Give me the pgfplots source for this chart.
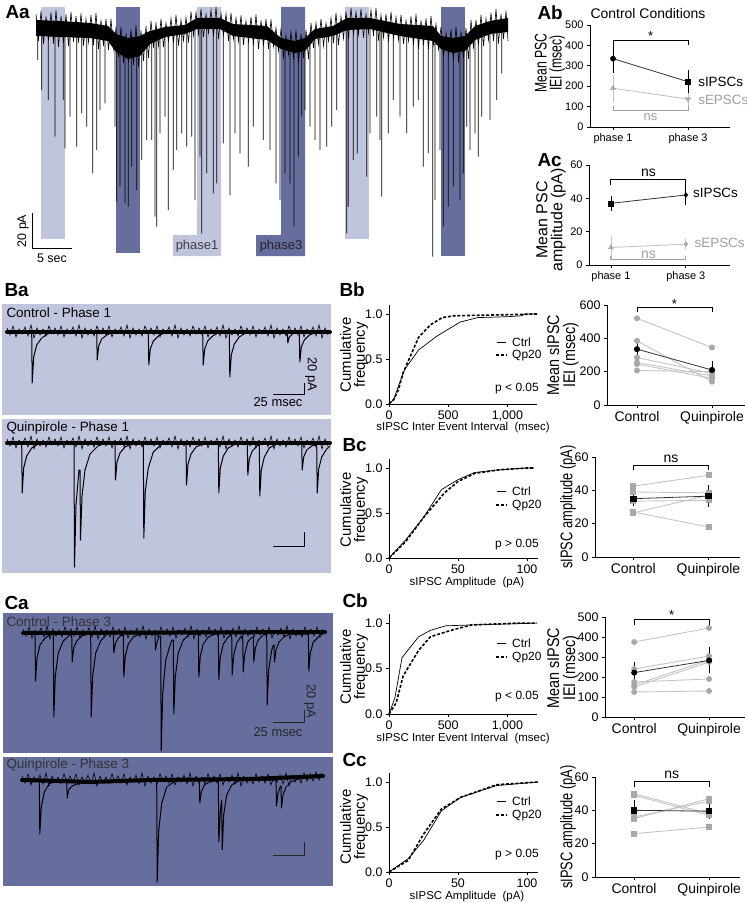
\documentclass[border=0pt]{standalone}
\usepackage{fontspec}
\setmainfont{Liberation Sans}
\usepackage{pgfplots}
\pgfplotsset{compat=1.18}
\definecolor{lightph}{HTML}{C0C5DD}
\definecolor{darkph}{HTML}{666E9D}
\definecolor{gpt}{HTML}{A8A8A8}
\definecolor{gln}{HTML}{C4C4C4}
\definecolor{gtx}{HTML}{A0A0A0}
\newcommand{\fs}[1]{\fontsize{#1}{#1}\selectfont}
\pgfplotsset{
 canvas/.style={at={(0,0)},anchor=south west,scale only axis,width=747bp,height=903bp,
   xmin=0,xmax=747,ymin=0,ymax=903,y dir=reverse,hide axis,clip=false},
 panel/.style={scale only axis,anchor=south west,axis lines=left,axis line style={-,line width=0.9bp},
   tick align=outside,major tick length=3bp,tick style={black,line width=0.8bp},
   tick label style={font=\fs{11}},/pgf/number format/assume math mode=true,clip=false,ymin=0},
 cum/.style={panel,ytick={0,0.5,1},yticklabels={0.0,0.5,1.0},ymax=1.1,xmin=0,
   tick label style={font=\fs{12.5}}},
 cat/.style={panel,xtick={1,2},xticklabels={Control,Quinpirole},
   xticklabel style={font=\fs{14}},yticklabel style={font=\fs{12.5}}},
 trace/.style={black,line width=1bp,line join=round},
 band/.style={black,line width=4bp,line cap=round},
 noise/.style={black,line width=0.6bp},
 ctrl/.style={black,line width=0.7bp},
 qp/.style={black,line width=1.6bp,dash pattern=on 3bp off 1.8bp},
 gl/.style={gln,line width=0.9bp,mark=*,mark size=2.5bp,mark options={gpt,fill=gpt}},
 gs/.style={gln,line width=0.9bp,mark=square*,mark size=2.5bp,mark options={gpt,fill=gpt}},
 meanbar/.style={black!80,line width=0.8bp,error bars/y dir=both,error bars/y explicit,
   error bars/error bar style={line width=0.8bp,black},
   error bars/error mark options={line width=0.8bp,mark size=2.5bp,black}},
 gbar/.style={gln,line width=0.9bp,error bars/y dir=both,error bars/y explicit,
   error bars/error bar style={gln,line width=0.8bp},
   error bars/error mark options={gln,line width=0.8bp,mark size=2.5bp}},
}
\begin{document}
\begin{tikzpicture}
\begin{axis}[canvas]
% ---------- Aa phase rectangles
\addplot[fill=lightph,draw=none] coordinates {(41,7)(65,7)(65,239)(41,239)} --cycle;
\addplot[fill=darkph,draw=none] coordinates {(116,7)(140,7)(140,253)(116,253)} --cycle;
\addplot[fill=lightph,draw=none] coordinates {(197,7)(221,7)(221,256)(173,256)(173,235)(197,235)} --cycle;
\addplot[fill=darkph,draw=none] coordinates {(281,7)(305,7)(305,256)(256,256)(256,235)(281,235)} --cycle;
\addplot[fill=lightph,draw=none] coordinates {(345,7)(369,7)(369,239)(345,239)} --cycle;
\addplot[fill=darkph,draw=none] coordinates {(441,7)(465,7)(465,256)(441,256)} --cycle;
% ---------- Aa trace: solid core of the noise band
\addplot[fill=black,draw=none] coordinates {
(36,20)(60,21)(90,23)(108,26)(116,34)(128,38)(140,36)(150,31)(165,27)(185,25)(197,18)(220,18)(233,24)(267,26)(281,38)(295,41)(305,38)(315,29)(333,26)(347,18)(370,18)(400,24)(433,26)(441,36)(453,38)(465,36)(475,26)(490,21)(508,18)
(508,32)(490,34)(475,40)(465,51)(453,53)(441,49)(433,41)(400,36)(370,29)(347,30)(333,36)(315,39)(305,51)(295,53)(281,49)(267,40)(233,36)(220,29)(197,29)(185,34)(165,37)(150,44)(140,56)(128,59)(116,52)(108,41)(90,38)(60,37)(36,36)} --cycle;
% ---------- Aa trace: noise
\addplot[black,line width=0.6bp] coordinates {
(36,14)(38.5,41)(41,11)(43.5,44)(46,16.5)(48.5,40.5)(51,12.5)(53.5,43.5)(56,10)(58.5,47)(61,16)(63.5,43)(66,14.5)(68.5,46)(71,12)(73.5,41.5)(76,16)(78.5,42.5)(81,13.5)(83.5,45.5)(86,19)(88.5,42)(91,15)(93.5,45)(96,13)(98.5,49)(101,20)(103.5,46)(106,19)(108.5,50)(111,19)(113.5,49)(116,28)(118.5,57)(121,27)(123.5,63)(126,33.5)(128.5,62)(131,29.5)(133.5,65)(136,25.5)(138.5,67)(141,30.5)(143.5,61)(146,26)(148.5,58)(151,21)(153.5,47.5)(156,23.5)(158.5,46)(161,19)(163.5,47)(166,23)(168.5,41)(171,18.5)(173.5,43)(176,15)(178.5,45.5)(181,20)(183.5,40.5)(186,17.5)(188.5,42.5)(191,11.5)(193.5,35.5)(196,12.5)(198.5,34.5)(201,9)(203.5,37)(206,14)(208.5,33)(211,10)(213.5,36)(216,7)(218.5,39)(221,13.5)(223.5,35.5)(226,14)(228.5,41)(231,13)(233.5,39)(236,18)(238.5,41.5)(241,15.5)(243.5,45)(246,21)(248.5,41.5)(251,17)(253.5,45)(256,14.5)(258.5,49)(261,20.5)(263.5,45.5)(266,19)(268.5,49)(271,19.5)(273.5,46.5)(276,28)(278.5,51)(281,29)(283.5,57)(286,35)(288.5,54.5)(291,32)(293.5,59)(296,30)(298.5,63)(301,34)(303.5,58)(306,30)(308.5,59)(311,23)(313.5,48)(316,23)(318.5,44)(321,19)(323.5,46)(326,23)(328.5,41)(331,18)(333.5,43)(336,13)(338.5,45)(341,16.5)(343.5,38.5)(346,11.5)(348.5,39)(351,8)(353.5,34)(356,12)(358.5,34.5)(361,9)(363.5,37.5)(366,14)(368.5,33)(371,10)(373.5,36)(376,8)(378.5,40.5)(381,15)(383.5,37.5)(386,14)(388.5,41.5)(391,12)(393.5,38)(396,17)(398.5,40)(401,15)(403.5,44)(406,20.5)(408.5,41)(411,16.5)(413.5,44.5)(416,14)(418.5,48.5)(421,20.5)(423.5,45)(426,18.5)(428.5,49)(431,16)(433.5,44.5)(436,24)(438.5,49)(441,27)(443.5,57)(446,33)(448.5,55)(451,29.5)(453.5,59.5)(456,26.5)(458.5,62.5)(461,31.5)(463.5,58)(466,28)(468.5,59)(471,20)(473.5,48.5)(476,20)(478.5,45)(481,15)(483.5,46)(486,18.5)(488.5,40)(491,13)(493.5,41)(496,9)(498.5,43.5)(501,14)(503.5,39)(506,11)(508,41)};
% ---------- Aa trace: events
\addplot[black,line width=0.85bp] coordinates {
(37.7,30)(37.7,60)(37.7,30)(41.7,30)(41.7,90)(41.7,30)(48.3,30)(48.3,100)(48.3,30)(55,30)(55,136.7)(55,30)
(63.3,30)(63.3,100)(63.3,30)(65,30)(65,148.3)(65,30)(70,30)(70,116.7)(70,30)(76.7,30)(76.7,146.7)(76.7,30)
(81.7,30)(81.7,113.3)(81.7,30)(86.7,30)(86.7,126.7)(86.7,30)(92.7,30)(92.7,173.3)(92.7,30)(96.7,30)(96.7,150)(96.7,30)
(100,33)(100,110)(100,33)(105,33)(105,103.3)(105,33)
(115,40)(115,126.7)(115,46)(116.7,46)(116.7,201.7)(116.7,46)(120,46)(120,186.7)(120,46)(125,46)(125,203.3)(125,46)
(128.3,46)(128.3,206.7)(128.3,46)(131.7,46)(131.7,166.7)(131.7,46)(136.7,46)(136.7,190)(136.7,46)(141.7,46)(141.7,160)(141.7,46)
(146.7,40)(146.7,140)(146.7,40)(151.7,40)(151.7,140)(151.7,40)(155,35)(155,216.7)(155,35)(156.7,35)(156.7,226.7)(156.7,35)
(160,35)(160,133.3)(160,35)(165,32)(165,116.7)(165,32)
(168.3,31)(168.3,210)(168.3,31)(173.3,31)(173.3,170)(173.3,31)(176.7,31)(176.7,150)(176.7,31)(181.7,31)(181.7,133.3)(181.7,31)
(186.7,31)(186.7,146.7)(186.7,31)(191.7,31)(191.7,136.7)(191.7,31)(195,24)(195,200)(195,24)(200,24)(200,156.7)(200,24)
(201.7,24)(201.7,233.3)(201.7,24)(206.7,24)(206.7,173.3)(206.7,24)(213.3,24)(213.3,193.3)(213.3,24)(216.7,24)(216.7,183.3)(216.7,24)
(223.3,24)(223.3,143.3)(223.3,24)(230,24)(230,195)(230,29)(235,29)(235,133.3)(235,29)(240,29)(240,153.3)(240,29)
(248.3,32)(248.3,166.7)(248.3,32)(253.3,32)(253.3,126.7)(253.3,32)(263.3,32)(263.3,140)(263.3,32)(270,32)(270,150)(270,32)
(276,40)(276,183.3)(276,45)(280,45)(280,200)(280,45)(285,45)(285,173.3)(285,45)(290,45)(290,183.3)(290,45)
(294,45)(294,226.7)(294,45)(298.3,45)(298.3,156.7)(298.3,45)(301.7,45)(301.7,116.7)(301.7,45)(305,45)(305,110)(305,38)
(310,38)(310,126.7)(310,32)(315,32)(315,140)(315,32)(320,32)(320,150)(320,32)(326.7,32)(326.7,146.7)(326.7,32)(331.7,32)(331.7,126.7)(331.7,29)
(336.7,29)(336.7,110)(336.7,24)(346.7,24)(346.7,233.3)(346.7,24)(348.3,24)(348.3,206.7)(348.3,24)(353.3,24)(353.3,160)(353.3,24)
(357.3,24)(357.3,153.3)(357.3,24)(366.7,24)(366.7,176.7)(366.7,24)(370,24)(370,133.3)(370,24)(376.7,24)(376.7,116.7)(376.7,24)
(380,24)(380,140)(380,24)(381.7,24)(381.7,196.7)(381.7,28)(388.3,28)(388.3,133.3)(388.3,28)(393.3,28)(393.3,100)(393.3,28)(400,28)(400,116.7)(400,31)
(406.7,31)(406.7,133.3)(406.7,31)(413.3,31)(413.3,106.7)(413.3,31)(418.3,31)(418.3,100)(418.3,31)(423.3,31)(423.3,166.7)(423.3,31)(428.3,31)(428.3,153.3)(428.3,35)
(432.7,35)(432.7,256.7)(432.7,44)(435,44)(435,200)(435,44)(440,44)(440,150)(440,44)(443.3,44)(443.3,226.7)(443.3,44)
(448.3,44)(448.3,206.7)(448.3,44)(453.3,44)(453.3,186.7)(453.3,44)(460,44)(460,200)(460,44)(463.3,44)(463.3,173.3)(463.3,44)
(466.7,44)(466.7,126.7)(466.7,40)(470,40)(470,150)(470,33)
(475,33)(475,133.3)(475,33)(478.3,33)(478.3,156.7)(478.3,33)(481.7,33)(481.7,116.7)(481.7,28)(490,28)(490,120)(490,26)
(496.7,26)(496.7,100)(496.7,26)(501.7,26)(501.7,73.3)(501.7,26)};
% Aa scale bar and labels
\addplot[black,line width=1bp] coordinates {(32,213)(32,248)(72,248)};
\node[rotate=90,font=\fs{12.5}] at (23,231) {20 pA};
\node[font=\fs{12.5}] at (52,258) {5 sec};
\node[font=\fs{13},text=black!75] at (197,246) {phase1};
\node[font=\fs{13},text=black!85] at (281,246) {phase3};
% ---------- B/C background boxes
\addplot[fill=lightph,draw=none] coordinates {(2,304)(331,304)(331,415)(2,415)} --cycle;
\addplot[fill=lightph,draw=none] coordinates {(2,419)(331,419)(331,573)(2,573)} --cycle;
\addplot[fill=darkph,draw=none] coordinates {(3,613)(333,613)(333,753)(3,753)} --cycle;
\addplot[fill=darkph,draw=none] coordinates {(3,757)(333,757)(333,886)(3,886)} --cycle;
% ---------- Control phase 1 trace
\addplot[band] coordinates {(7,332)(330,332)};
\addplot[noise] coordinates {
(7,328)(10,335)(13,326)(16,337)(19,329)(22,334)(25,327)(28,336)(31,325)(34,338)(37,328)(40,335)(43,329)(46,336)(49,326)(52,334)
(55,328)(58,335)(61,326)(64,337)(67,329)(70,334)(73,327)(76,336)(79,325)(82,338)(85,328)(88,335)(91,329)(94,336)(97,326)(100,334)
(103,328)(106,335)(109,326)(112,337)(115,329)(118,334)(121,327)(124,336)(127,325)(130,338)(133,328)(136,335)(139,329)(142,336)(145,326)(148,334)
(151,328)(154,335)(157,326)(160,337)(163,329)(166,334)(169,327)(172,336)(175,325)(178,338)(181,328)(184,335)(187,329)(190,336)(193,326)(196,334)
(199,328)(202,335)(205,326)(208,337)(211,329)(214,334)(217,327)(220,336)(223,325)(226,338)(229,328)(232,335)(235,329)(238,336)(241,326)(244,334)
(247,328)(250,335)(253,326)(256,337)(259,329)(262,334)(265,327)(268,336)(271,325)(274,338)(277,328)(280,335)(283,329)(286,336)(289,326)(292,334)
(295,328)(298,335)(301,326)(304,337)(307,329)(310,334)(313,327)(316,336)(319,325)(322,338)(325,328)(328,335)};
\addplot[trace] coordinates {(7,332)
(31.7,332)(32.2,383)(33.7,357)(36.7,345)(41.7,338)(49,333)
(96.7,332)(97.2,360)(98.7,346)(101.7,339)(106.7,335)(114,332)
(148.3,332)(148.8,365)(150.3,349)(153.3,341)(158.3,336)(166,332)
(202.7,332)(203.2,365)(204.7,349)(207.7,341)(212.7,336)(220,332)
(229.3,332)(229.8,377)(231.3,355)(234.3,344)(239.3,337)(247,332)
(287.3,332)(287.8,343)(289.3,337)(292.3,334)(297,332)
(299.3,332)(299.8,362)(301.3,347)(304.3,340)(309.3,335)(317,332)(330,332)};
% ---------- Quinpirole phase 1 trace
\addplot[band] coordinates {(7,443)(330,443)};
\addplot[noise] coordinates {
(7,439)(10,446)(13,437)(16,448)(19,440)(22,445)(25,438)(28,447)(31,436)(34,449)(37,439)(40,446)(43,440)(46,447)(49,437)(52,445)
(55,439)(58,446)(61,437)(64,448)(67,440)(70,445)(73,438)(76,447)(79,436)(82,449)(85,439)(88,446)(91,440)(94,447)(97,437)(100,445)
(103,439)(106,446)(109,437)(112,448)(115,440)(118,445)(121,438)(124,447)(127,436)(130,449)(133,439)(136,446)(139,440)(142,447)(145,437)(148,445)
(151,439)(154,446)(157,437)(160,448)(163,440)(166,445)(169,438)(172,447)(175,436)(178,449)(181,439)(184,446)(187,440)(190,447)(193,437)(196,445)
(199,439)(202,446)(205,437)(208,448)(211,440)(214,445)(217,438)(220,447)(223,436)(226,449)(229,439)(232,446)(235,440)(238,447)(241,437)(244,445)
(247,439)(250,446)(253,437)(256,448)(259,440)(262,445)(265,438)(268,447)(271,436)(274,449)(277,439)(280,446)(283,440)(286,447)(289,437)(292,445)
(295,439)(298,446)(301,437)(304,448)(307,440)(310,445)(313,438)(316,447)(319,436)(322,449)(325,439)(328,446)};
\addplot[trace] coordinates {(7,443)
(21.7,443)(22.2,493)(23.7,468)(26.7,456)(31.7,448)(40,443)
(74,443)(74.5,567)(76,505)(79,470)(80,470)(80.5,540)(82,496)(85,470)(90,454)(98,446)(106,443)
(115,443)(115.5,480)(117,462)(120,453)(125,447)(134,443)
(143.3,443)(143.8,538)(145.3,491)(148.3,468)(153.3,452)(162,444)
(186,443)(186.5,485)(188,464)(191,454)(196,447)(205,443)
(218.3,443)(218.8,493)(220.3,468)(223.3,456)(228.3,448)(237,443)
(247.3,443)(247.8,475)(249.3,459)(252.3,451)(257,446)
(259.3,445)(259.8,496)(261.3,470)(264.3,457)(269.3,448)(278,443)
(301.7,443)(302.2,470)(303.7,457)(306.7,450)(311.7,446)
(316.7,445)(317.2,493)(318.7,469)(321.7,457)(326.7,449)(330,446)};
% ---------- Control phase 3 trace
\addplot[band] coordinates {(23,633)(325,632)};
\addplot[noise] coordinates {
(23,629)(26,636)(29,627)(32,638)(35,630)(38,635)(41,628)(44,637)(47,626)(50,639)(53,629)(56,636)(59,630)(62,637)(65,627)(68,635)
(71,629)(74,636)(77,627)(80,638)(83,630)(86,635)(89,628)(92,637)(95,626)(98,639)(101,629)(104,636)(107,630)(110,637)(113,627)(116,635)
(119,629)(122,636)(125,627)(128,638)(131,630)(134,635)(137,628)(140,637)(143,626)(146,639)(149,629)(152,636)(155,630)(158,637)(161,627)(164,635)
(167,629)(170,636)(173,627)(176,638)(179,630)(182,635)(185,628)(188,637)(191,626)(194,639)(197,629)(200,636)(203,630)(206,637)(209,627)(212,635)
(215,629)(218,636)(221,627)(224,638)(227,630)(230,635)(233,628)(236,637)(239,626)(242,639)(245,629)(248,636)(251,630)(254,637)(257,627)(260,635)
(263,629)(266,636)(269,627)(272,638)(275,630)(278,635)(281,628)(284,637)(287,626)(290,639)(293,629)(296,636)(299,630)(302,637)(305,627)(308,635)
(311,629)(314,636)(317,627)(320,637)(323,629)};
\addplot[trace] coordinates {(23,633)
(35,634)(35.5,681)(37,658)(40,645)(45,638)(51,634)
(53.3,634)(53.8,717)(55.3,676)(58.3,653)(63.3,641)(70,635)
(71.7,635)(72.2,662)(73.7,648)(76.7,641)(81.7,636)(88,634)
(90.7,634)(91.2,717)(92.7,676)(95.7,653)(100.7,641)(108,633)
(113.3,633)(113.8,653)(115.3,644)(118.3,638)(121,635)
(123.3,635)(123.8,677)(125.3,656)(128.3,644)(133.3,637)(140,634)
(155,634)(155.5,650)(157,642)(159,637)
(160.7,636)(161.2,751)(162.7,693)(165.7,660)(170.7,643)(172,640)
(173.3,640)(173.8,714)(175.3,677)(178.3,653)(183.3,640)(190,634)
(198.3,634)(198.8,677)(200.3,656)(203.3,644)(208.3,637)(215,634)
(218.3,634)(218.8,680)(220.3,657)(223.3,644)(228.3,637)(231,635)
(231.7,635)(232.2,675)(233.7,655)(236.7,643)(240.7,637)
(242.7,636)(243.2,672)(244.7,654)(247.7,642)(251,638)
(253.3,637)(253.8,662)(255.3,648)(258.3,640)(263,635)
(266.7,634)(267.2,705)(268.7,670)(271.7,650)(273.5,645)
(274,645)(274.5,662)(276,650)(279,642)(284,637)(290,634)
(308.3,634)(308.8,671)(310.3,653)(313.3,642)(318.3,637)(325,632)};
% ---------- Quinpirole phase 3 trace
\addplot[band] coordinates {(22,780)(60,781)(90,782)(150,780)(250,779)(300,777)(323,776)};
\addplot[noise] coordinates {
(22,776)(25,783)(28,774)(31,785)(34,777)(37,782)(40,775)(43,784)(46,773)(49,786)(52,776)(55,783)(58,777)(61,784)(64,774)(67,782)
(70,776)(73,783)(76,774)(79,785)(82,777)(85,782)(88,775)(91,784)(94,773)(97,786)(100,776)(103,783)(106,777)(109,784)(112,774)(115,782)
(118,776)(121,783)(124,774)(127,785)(130,777)(133,782)(136,775)(139,784)(142,773)(145,786)(148,776)(151,783)(154,777)(157,784)(160,774)(163,782)
(166,776)(169,783)(172,774)(175,785)(178,777)(181,782)(184,775)(187,784)(190,773)(193,786)(196,776)(199,783)(202,777)(205,784)(208,774)(211,782)
(214,776)(217,783)(220,774)(223,785)(226,777)(229,782)(232,775)(235,784)(238,773)(241,786)(244,776)(247,783)(250,777)(253,784)(256,774)(259,782)
(262,776)(265,783)(268,774)(271,785)(274,777)(277,782)(280,775)(283,784)(286,773)(289,786)(292,775)(295,782)(298,776)(301,783)(304,773)(307,781)
(310,774)(313,781)(316,772)(319,780)(322,773)};
\addplot[trace] coordinates {(22,780)
(39.3,780)(39.8,834)(41.3,807)(44.3,792)(49.3,784)(57,780)
(66.7,782)(67.2,798)(68.7,790)(72,786)(80,783)(90,781)
(156.7,780)(157.2,882)(158.7,831)(161.7,803)(166.7,787)(175,781)
(199.3,780)(199.8,803)(201.3,792)(204.3,785)(209.3,782)
(218.3,780)(218.8,842)(220.3,812)(221.5,800)(221.7,800)(222.2,850)(223.7,815)(226.7,795)(231.7,785)(240,780)
(276,780)(276.5,806)(278,793)(280.5,786)(281,786)(281.5,808)(283,795)(286,787)(291,782)(298,779)
(323,776)};
% ---------- B/C scale bars
\addplot[black,line width=1bp] coordinates {(273,394)(304,394)(304,383)};
\addplot[black,line width=1bp] coordinates {(273,546)(304,546)(304,532)};
\addplot[black!85,line width=1bp] coordinates {(273,722)(304,722)(304,710)};
\addplot[black!85,line width=1bp] coordinates {(273,855)(304,855)(304,842)};
\node[rotate=-90,font=\fs{13}] at (311,374) {20 pA};
\node[font=\fs{13}] at (278,402) {25 msec};
\node[rotate=-90,font=\fs{13},text=black!85] at (310,701) {20 pA};
\node[font=\fs{13},text=black!85] at (278,732) {25 msec};
% box captions
\node[anchor=west,font=\fs{13.5}] at (3,313) {Control - Phase 1};
\node[anchor=west,font=\fs{13.5}] at (3,428) {Quinpirole - Phase 1};
\node[anchor=west,font=\fs{13.5},text=black!80] at (3,622) {Control - Phase 3};
\node[anchor=west,font=\fs{13.5},text=black!80] at (3,765) {Quinpirole - Phase 3};
% ---------- panel letters
\node[anchor=west,font=\fs{19}\bfseries] at (2,12) {Aa};
\node[anchor=west,font=\fs{19}\bfseries] at (534,13) {Ab};
\node[anchor=west,font=\fs{19}\bfseries] at (534,160) {Ac};
\node[anchor=west,font=\fs{19}\bfseries] at (1,290) {Ba};
\node[anchor=west,font=\fs{19}\bfseries] at (336,290) {Bb};
\node[anchor=west,font=\fs{19}\bfseries] at (339,445) {Bc};
\node[anchor=west,font=\fs{19}\bfseries] at (1,603) {Ca};
\node[anchor=west,font=\fs{19}\bfseries] at (339,601) {Cb};
\node[anchor=west,font=\fs{19}\bfseries] at (339,760) {Cc};
% ---------- A titles and labels
\node[font=\fs{14}] at (648,14) {Control Conditions};
\node[rotate=90,xscale=0.72,font=\fontsize{17}{15}\selectfont,align=center,inner sep=0pt] at (550,63) {Mean PSC\\IEI (msec)};
\node[rotate=90,font=\fontsize{16}{15}\selectfont,align=center,inner sep=0pt] at (551,220) {Mean PSC\\amplitude (pA)};
% ---------- cumulative labels
\node[rotate=90,font=\fontsize{15}{14}\selectfont,align=center,inner sep=0pt] at (354,355) {Cumulative\\frequency};
\node[rotate=90,font=\fontsize{15}{14}\selectfont,align=center,inner sep=0pt] at (354,510) {Cumulative\\frequency};
\node[rotate=90,font=\fontsize{15}{14}\selectfont,align=center,inner sep=0pt] at (354,667) {Cumulative\\frequency};
\node[rotate=90,font=\fontsize{15}{14}\selectfont,align=center,inner sep=0pt] at (354,827) {Cumulative\\frequency};
\node[font=\fs{11.5},inner sep=0pt] at (463,428) {sIPSC Inter Event Interval\ \ (msec)};
\node[font=\fs{11.5},inner sep=0pt] at (467,583) {sIPSC Amplitude\ \ (pA)};
\node[font=\fs{11.5},inner sep=0pt] at (463,739) {sIPSC Inter Event Interval\ \ (msec)};
\node[font=\fs{11.5},inner sep=0pt] at (467,897) {sIPSC Amplitude\ \ (pA)};
% legends
\addplot[ctrl] coordinates {(497,342)(506,342)};
\addplot[qp] coordinates {(496,355)(506,355)};
\node[anchor=west,font=\fs{12},inner sep=0pt] at (512,342) {Ctrl};
\node[anchor=west,font=\fs{12},inner sep=0pt] at (512,355.5) {Qp20};
\node[font=\fs{12},inner sep=0pt] at (517,389) {p < 0.05};
\addplot[ctrl] coordinates {(497,491)(506,491)};
\addplot[qp] coordinates {(496,505)(506,505)};
\node[anchor=west,font=\fs{12},inner sep=0pt] at (512,491) {Ctrl};
\node[anchor=west,font=\fs{12},inner sep=0pt] at (512,505.5) {Qp20};
\node[font=\fs{12},inner sep=0pt] at (517,545) {p > 0.05};
\addplot[ctrl] coordinates {(497,643)(506,643)};
\addplot[qp] coordinates {(496,657)(506,657)};
\node[anchor=west,font=\fs{12},inner sep=0pt] at (512,643) {Ctrl};
\node[anchor=west,font=\fs{12},inner sep=0pt] at (512,657.5) {Qp20};
\node[font=\fs{12},inner sep=0pt] at (517,697) {p < 0.05};
\addplot[ctrl] coordinates {(497,801)(506,801)};
\addplot[qp] coordinates {(496,815)(506,815)};
\node[anchor=west,font=\fs{12},inner sep=0pt] at (512,801) {Ctrl};
\node[anchor=west,font=\fs{12},inner sep=0pt] at (512,815.5) {Qp20};
\node[font=\fs{12},inner sep=0pt] at (517,855) {p > 0.05};
% right-column y labels
\node[rotate=90,xscale=0.85,font=\fontsize{17}{16}\selectfont,align=center,inner sep=0pt] at (563,355) {Mean sIPSC\\IEI (msec)};
\node[rotate=90,xscale=0.76,font=\fs{17},inner sep=0pt] at (568,507) {sIPSC amplitude (pA)};
\node[rotate=90,xscale=0.85,font=\fontsize{17}{16}\selectfont,align=center,inner sep=0pt] at (563,668) {Mean sIPSC\\IEI (msec)};
\node[rotate=90,xscale=0.76,font=\fs{17},inner sep=0pt] at (568,827) {sIPSC amplitude (pA)};
\end{axis}

% ================= Ab
\begin{axis}[panel,at={(590bp,776bp)},width=140bp,height=102bp,xmin=0.693,xmax=2.56,ymax=500,
  xtick={1,2},xticklabels={phase 1,phase 3},ytick={0,100,200,300,400,500}]
\addplot[gbar] coordinates {(1,190) +- (0,53) (2,137) +- (0,23)};
\addplot[only marks,mark=triangle*,mark size=3bp,gpt] coordinates {(1,190)};
\addplot[only marks,mark=triangle*,mark size=3bp,gpt,mark options={rotate=180}] coordinates {(2,137)};
\addplot[meanbar] coordinates {(1,335) +- (0,57) (2,222) +- (0,45)};
\addplot[only marks,mark=*,mark size=2.6bp,black] coordinates {(1,335)};
\addplot[only marks,mark=square*,mark size=2.6bp,black] coordinates {(2,222)};
\addplot[black,line width=1bp] coordinates {(1,402)(1,423)(2,423)(2,402)};
\addplot[gtx,line width=1bp] coordinates {(1,103)(1,83)(2,83)(2,103)};
\node[font=\fs{13}] at (1.5,447) {*};
\node[font=\fs{13},text=gtx] at (1.5,48) {ns};
\node[anchor=west,font=\fs{13.5}] at (2.09,222) {sIPSCs};
\node[anchor=west,font=\fs{13.5},text=gtx] at (2.09,133) {sEPSCs};
\end{axis}
% ================= Ac
\begin{axis}[panel,at={(589bp,638bp)},width=141bp,height=100bp,xmin=0.707,xmax=2.59,ymax=60,
  xtick={1,2},xticklabels={phase 1,phase 3},ytick={0,20,40,60}]
\addplot[gbar] coordinates {(1,10.5) +- (0,5.5) (2,12.5) +- (0,1.5)};
\addplot[only marks,mark=triangle*,mark size=3bp,gpt] coordinates {(1,10.5)};
\addplot[only marks,mark=diamond*,mark size=2.5bp,gpt] coordinates {(2,12.5)};
\addplot[meanbar] coordinates {(1,37) +- (0,3) (2,42) +- (0,4.5)};
\addplot[only marks,mark=square*,mark size=2.6bp,black] coordinates {(1,37)};
\addplot[only marks,mark=diamond*,mark size=2.6bp,black] coordinates {(2,42)};
\addplot[black,line width=1bp] coordinates {(1,48)(1,51)(2,51)(2,48)};
\addplot[gtx,line width=1bp] coordinates {(1,5.5)(1,3)(2,3)(2,5.5)};
\node[font=\fs{14}] at (1.5,55.5) {ns};
\node[font=\fs{14},text=gtx] at (1.5,6) {ns};
\node[anchor=west,font=\fs{13.5}] at (2.05,43) {sIPSCs};
\node[anchor=west,font=\fs{13.5},text=gtx] at (2.07,13) {sEPSCs};
\end{axis}
% ================= Bb left
\begin{axis}[cum,at={(389bp,499bp)},width=148bp,height=99bp,xmax=1250,xtick={0,500,1000}]
\addplot[ctrl] coordinates {(0,0)(40,0.05)(80,0.2)(130,0.38)(250,0.6)(400,0.75)(500,0.83)(600,0.91)(750,0.96)(1000,0.97)(1120,0.98)(1150,1.0)(1250,1.0)};
\addplot[qp] coordinates {(0,0)(40,0.05)(80,0.16)(120,0.35)(250,0.74)(350,0.88)(450,0.96)(550,0.98)(1100,0.995)(1250,1.0)};
\end{axis}
% ================= Bc left
\begin{axis}[cum,at={(389bp,345bp)},width=149bp,height=99bp,xmax=108,xtick={0,50,100}]
\addplot[ctrl] coordinates {(0,0)(12,0.2)(25,0.45)(38,0.76)(50,0.87)(62,0.95)(80,0.98)(100,1.0)(105,1.0)};
\addplot[qp] coordinates {(0,0)(12,0.18)(25,0.45)(40,0.72)(50,0.85)(62,0.94)(80,0.98)(100,1.0)(105,1.0)};
\end{axis}
% ================= Cb left
\begin{axis}[cum,at={(389bp,189bp)},width=148bp,height=100bp,xmax=1250,xtick={0,500,1000}]
\addplot[ctrl] coordinates {(0,0)(50,0.18)(110,0.62)(250,0.85)(350,0.92)(480,0.97)(700,0.98)(1000,0.99)(1250,1.0)};
\addplot[qp] coordinates {(0,0)(60,0.12)(120,0.42)(250,0.7)(350,0.85)(550,0.93)(700,0.98)(1100,1.0)(1250,1.0)};
\end{axis}
% ================= Cc left
\begin{axis}[cum,at={(389bp,31bp)},width=149bp,height=99bp,xmax=108,xtick={0,50,100}]
\addplot[ctrl] coordinates {(0,0)(14,0.15)(25,0.35)(38,0.68)(52,0.83)(78,0.96)(108,1.0)};
\addplot[qp] coordinates {(0,0)(14,0.13)(25,0.42)(38,0.70)(52,0.83)(78,0.97)(108,1.0)};
\end{axis}
% ================= Bb right
\begin{axis}[cat,at={(607bp,498bp)},width=138bp,height=100bp,xmin=0.6,xmax=2.44,ymax=600,ytick={0,200,400,600}]
\addplot[gl] coordinates {(1,520)(2,345)};
\addplot[gl] coordinates {(1,385)(2,140)};
\addplot[gl] coordinates {(1,285)(2,190)};
\addplot[gl] coordinates {(1,255)(2,175)};
\addplot[gl] coordinates {(1,245)(2,160)};
\addplot[gl] coordinates {(1,207)(2,200)};
\addplot[meanbar,mark=*,mark size=2.6bp,mark options={black,fill=black}] coordinates {(1,335) +- (0,52) (2,210) +- (0,40)};
\addplot[black,line width=1bp] coordinates {(1,560)(1,583)(2,583)(2,560)};
\node[font=\fs{13}] at (1.5,603) {*};
\end{axis}
% ================= Bc right
\begin{axis}[cat,at={(595bp,346bp)},width=145bp,height=100bp,xmin=0.49,xmax=2.42,ymax=60,ytick={0,20,40,60}]
\addplot[gs] coordinates {(1,42.5)(2,49)};
\addplot[gs] coordinates {(1,39)(2,38.5)};
\addplot[gs] coordinates {(1,33.5)(2,34)};
\addplot[gs] coordinates {(1,27)(2,18)};
\addplot[gs] coordinates {(1,26.5)(2,37)};
\addplot[meanbar,mark=square*,mark size=2.6bp,mark options={black,fill=black}] coordinates {(1,35) +- (0,3) (2,36.5) +- (0,5)};
\addplot[black,line width=1bp] coordinates {(1,52)(1,55)(2,55)(2,52)};
\node[font=\fs{14}] at (1.5,59) {ns};
\end{axis}
% ================= Cb right
\begin{axis}[cat,at={(605bp,186bp)},width=140bp,height=100bp,xmin=0.61,xmax=2.48,ymax=500,ytick={0,100,200,300,400,500}]
\addplot[gl] coordinates {(1,375)(2,445)};
\addplot[gl] coordinates {(1,240)(2,305)};
\addplot[gl] coordinates {(1,175)(2,190)};
\addplot[gl] coordinates {(1,160)(2,285)};
\addplot[gl] coordinates {(1,150)(2,275)};
\addplot[gl] coordinates {(1,125)(2,130)};
\addplot[meanbar,mark=*,mark size=2.6bp,mark options={black,fill=black}] coordinates {(1,222) +- (0,42) (2,283) +- (0,52)};
\addplot[black,line width=1bp] coordinates {(1,460)(1,488)(2,488)(2,460)};
\node[font=\fs{13}] at (1.5,512) {*};
\end{axis}
% ================= Cc right
\begin{axis}[cat,at={(595bp,26bp)},width=145bp,height=100bp,xmin=0.48,xmax=2.41,ymax=60,ytick={0,20,40,60}]
\addplot[gs] coordinates {(1,50)(2,38)};
\addplot[gs] coordinates {(1,49)(2,37)};
\addplot[gs] coordinates {(1,35)(2,47)};
\addplot[gs] coordinates {(1,36)(2,45.5)};
\addplot[gs] coordinates {(1,26)(2,30)};
\addplot[meanbar,mark=square*,mark size=2.6bp,mark options={black,fill=black}] coordinates {(1,40) +- (0,4.5) (2,39.5) +- (0,3)};
\addplot[black,line width=1bp] coordinates {(1,54)(1,57.3)(2,57.3)(2,54)};
\node[font=\fs{14}] at (1.5,61.5) {ns};
\end{axis}
\pgfresetboundingbox
\path[use as bounding box] (0,0) rectangle (747bp,903bp);
\end{tikzpicture}
\end{document}
